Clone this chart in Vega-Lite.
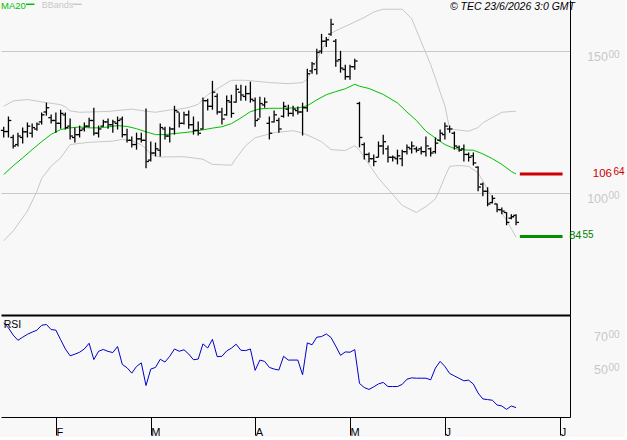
{
  "$schema": "https://vega.github.io/schema/vega-lite/v6.json",
  "background": "#f8f8f8",
  "padding": 0,
  "spacing": 0,
  "config": {"view": {"stroke": null}, "text": {"font": "Liberation Sans"}},
  "datasets": {
    "bars": [
      {"i":0,"o":122.0,"h":123.3,"l":119.5,"c":121.6,"rsi":75.2},
      {"i":1,"o":121.6,"h":126.9,"l":119.5,"c":125.5,"rsi":72.1},
      {"i":2,"o":119.5,"h":120.5,"l":115.6,"c":116.5,"rsi":67.7},
      {"i":3,"o":117.0,"h":121.2,"l":116.3,"c":120.0,"rsi":64.5},
      {"i":4,"o":119.5,"h":123.0,"l":117.4,"c":121.5,"rsi":66.4},
      {"i":5,"o":121.5,"h":124.8,"l":119.5,"c":123.5,"rsi":68.2},
      {"i":6,"o":121.0,"h":124.4,"l":119.5,"c":123.0,"rsi":69.5},
      {"i":7,"o":122.5,"h":124.8,"l":121.9,"c":124.2,"rsi":70.7},
      {"i":8,"o":125.0,"h":128.3,"l":124.1,"c":127.5,"rsi":73.7},
      {"i":9,"o":128.5,"h":131.8,"l":127.2,"c":130.0,"rsi":74.2},
      {"i":10,"o":126.5,"h":127.6,"l":124.4,"c":125.5,"rsi":71.1},
      {"i":11,"o":125.5,"h":128.3,"l":121.2,"c":124.5,"rsi":70.7},
      {"i":12,"o":124.5,"h":129.3,"l":122.6,"c":128.0,"rsi":64.9},
      {"i":13,"o":127.5,"h":128.3,"l":122.3,"c":123.0,"rsi":59.2},
      {"i":14,"o":123.5,"h":126.2,"l":118.8,"c":120.0,"rsi":55.0},
      {"i":15,"o":119.5,"h":123.0,"l":117.7,"c":120.5,"rsi":56.0},
      {"i":16,"o":120.5,"h":123.7,"l":119.5,"c":122.0,"rsi":57.2},
      {"i":17,"o":122.5,"h":124.8,"l":121.6,"c":123.5,"rsi":59.2},
      {"i":18,"o":123.5,"h":126.5,"l":123.0,"c":125.5,"rsi":62.7},
      {"i":19,"o":125.5,"h":130.0,"l":120.2,"c":121.0,"rsi":52.7},
      {"i":20,"o":121.0,"h":123.7,"l":119.5,"c":122.5,"rsi":57.8},
      {"i":21,"o":123.5,"h":125.8,"l":123.3,"c":125.0,"rsi":58.9},
      {"i":22,"o":125.0,"h":126.2,"l":122.6,"c":124.0,"rsi":57.7},
      {"i":23,"o":124.0,"h":125.8,"l":121.2,"c":125.0,"rsi":57.0},
      {"i":24,"o":124.5,"h":126.9,"l":122.3,"c":125.5,"rsi":60.7},
      {"i":25,"o":126.0,"h":126.9,"l":119.5,"c":120.5,"rsi":49.7},
      {"i":26,"o":120.5,"h":122.6,"l":117.7,"c":118.5,"rsi":47.7},
      {"i":27,"o":118.5,"h":119.8,"l":116.0,"c":117.0,"rsi":44.4},
      {"i":28,"o":117.0,"h":121.2,"l":115.2,"c":119.0,"rsi":48.5},
      {"i":29,"o":119.0,"h":121.2,"l":117.7,"c":118.5,"rsi":50.7},
      {"i":30,"o":118.5,"h":129.7,"l":108.6,"c":111.0,"rsi":36.8},
      {"i":31,"o":111.5,"h":118.1,"l":111.0,"c":114.0,"rsi":46.9},
      {"i":32,"o":114.0,"h":117.7,"l":112.8,"c":115.5,"rsi":47.9},
      {"i":33,"o":115.0,"h":124.4,"l":112.8,"c":123.0,"rsi":52.9},
      {"i":34,"o":122.5,"h":123.3,"l":118.8,"c":120.0,"rsi":51.2},
      {"i":35,"o":120.0,"h":123.3,"l":117.7,"c":122.5,"rsi":54.7},
      {"i":36,"o":122.5,"h":130.7,"l":120.5,"c":129.0,"rsi":59.2},
      {"i":37,"o":128.5,"h":128.3,"l":123.0,"c":124.5,"rsi":57.8},
      {"i":38,"o":124.5,"h":128.6,"l":124.1,"c":127.5,"rsi":58.7},
      {"i":39,"o":127.5,"h":129.0,"l":122.6,"c":124.0,"rsi":56.1},
      {"i":40,"o":124.0,"h":126.9,"l":120.5,"c":122.0,"rsi":52.6},
      {"i":41,"o":122.0,"h":125.1,"l":120.2,"c":121.0,"rsi":53.0},
      {"i":42,"o":122.5,"h":133.6,"l":122.3,"c":132.5,"rsi":62.3},
      {"i":43,"o":132.5,"h":133.2,"l":129.0,"c":130.5,"rsi":59.8},
      {"i":44,"o":130.5,"h":139.5,"l":129.3,"c":135.5,"rsi":65.1},
      {"i":45,"o":134.0,"h":135.0,"l":127.6,"c":128.5,"rsi":54.5},
      {"i":46,"o":128.5,"h":130.0,"l":124.1,"c":126.0,"rsi":54.7},
      {"i":47,"o":127.5,"h":134.3,"l":127.2,"c":132.5,"rsi":58.0},
      {"i":48,"o":132.0,"h":134.6,"l":126.5,"c":128.0,"rsi":59.7},
      {"i":49,"o":132.0,"h":138.1,"l":131.8,"c":136.5,"rsi":62.1},
      {"i":50,"o":135.5,"h":138.1,"l":132.5,"c":134.5,"rsi":58.4},
      {"i":51,"o":134.0,"h":137.8,"l":132.5,"c":135.0,"rsi":58.2},
      {"i":52,"o":135.0,"h":139.2,"l":131.8,"c":133.0,"rsi":59.2},
      {"i":53,"o":132.5,"h":133.6,"l":123.3,"c":125.5,"rsi":46.1},
      {"i":54,"o":126.0,"h":133.9,"l":126.5,"c":131.5,"rsi":52.4},
      {"i":55,"o":131.0,"h":133.6,"l":130.0,"c":132.0,"rsi":51.6},
      {"i":56,"o":124.5,"h":126.9,"l":118.8,"c":121.0,"rsi":47.9},
      {"i":57,"o":125.0,"h":129.0,"l":124.8,"c":127.5,"rsi":46.9},
      {"i":58,"o":125.5,"h":126.5,"l":121.2,"c":122.5,"rsi":46.3},
      {"i":59,"o":127.0,"h":132.1,"l":126.5,"c":130.5,"rsi":54.7},
      {"i":60,"o":129.5,"h":131.1,"l":126.9,"c":128.0,"rsi":52.4},
      {"i":61,"o":128.0,"h":130.7,"l":126.9,"c":129.5,"rsi":52.4},
      {"i":62,"o":129.0,"h":130.4,"l":127.6,"c":128.5,"rsi":52.4},
      {"i":63,"o":128.5,"h":131.8,"l":120.2,"c":130.0,"rsi":43.4},
      {"i":64,"o":130.0,"h":143.8,"l":128.6,"c":142.0,"rsi":62.9},
      {"i":65,"o":143.0,"h":146.2,"l":142.0,"c":145.5,"rsi":61.8},
      {"i":66,"o":143.5,"h":150.8,"l":141.7,"c":149.5,"rsi":66.4},
      {"i":67,"o":150.0,"h":156.1,"l":149.1,"c":153.5,"rsi":66.8},
      {"i":68,"o":153.5,"h":155.0,"l":151.5,"c":154.0,"rsi":68.4},
      {"i":69,"o":156.0,"h":161.4,"l":155.4,"c":159.5,"rsi":66.2},
      {"i":70,"o":153.5,"h":154.3,"l":144.5,"c":146.5,"rsi":60.9},
      {"i":71,"o":147.0,"h":150.1,"l":142.4,"c":144.0,"rsi":55.3},
      {"i":72,"o":143.5,"h":145.2,"l":139.9,"c":141.0,"rsi":57.4},
      {"i":73,"o":141.0,"h":145.2,"l":139.9,"c":144.5,"rsi":57.2},
      {"i":74,"o":144.5,"h":147.3,"l":143.4,"c":146.5,"rsi":58.8},
      {"i":75,"o":131.5,"h":132.1,"l":116.0,"c":119.5,"rsi":38.1},
      {"i":76,"o":117.0,"h":117.7,"l":111.7,"c":113.5,"rsi":35.6},
      {"i":77,"o":113.5,"h":114.2,"l":110.7,"c":112.0,"rsi":34.4},
      {"i":78,"o":112.0,"h":113.5,"l":109.3,"c":111.0,"rsi":36.0},
      {"i":79,"o":112.5,"h":118.1,"l":112.4,"c":116.5,"rsi":37.8},
      {"i":80,"o":116.5,"h":120.5,"l":113.5,"c":118.0,"rsi":38.7},
      {"i":81,"o":115.5,"h":116.7,"l":110.7,"c":112.5,"rsi":36.2},
      {"i":82,"o":112.5,"h":113.1,"l":111.0,"c":112.5,"rsi":36.2},
      {"i":83,"o":112.0,"h":115.2,"l":110.0,"c":113.0,"rsi":36.2},
      {"i":84,"o":112.0,"h":115.2,"l":109.3,"c":114.5,"rsi":37.5},
      {"i":85,"o":114.5,"h":117.0,"l":113.5,"c":116.0,"rsi":40.7},
      {"i":86,"o":115.5,"h":118.1,"l":113.8,"c":116.5,"rsi":41.5},
      {"i":87,"o":115.5,"h":116.3,"l":114.2,"c":115.0,"rsi":41.3},
      {"i":88,"o":115.5,"h":116.3,"l":113.5,"c":114.5,"rsi":41.3},
      {"i":89,"o":114.5,"h":119.8,"l":112.8,"c":116.5,"rsi":41.3},
      {"i":90,"o":115.5,"h":116.0,"l":112.8,"c":114.0,"rsi":40.3},
      {"i":91,"o":114.5,"h":119.5,"l":113.8,"c":117.5,"rsi":47.5},
      {"i":92,"o":118.5,"h":122.3,"l":118.1,"c":121.0,"rsi":51.6},
      {"i":93,"o":120.5,"h":124.8,"l":118.8,"c":123.5,"rsi":48.5},
      {"i":94,"o":122.5,"h":123.7,"l":121.2,"c":122.5,"rsi":44.2},
      {"i":95,"o":121.0,"h":121.6,"l":115.2,"c":116.5,"rsi":42.7},
      {"i":96,"o":116.0,"h":116.7,"l":114.5,"c":115.0,"rsi":41.2},
      {"i":97,"o":115.5,"h":117.0,"l":111.0,"c":113.5,"rsi":39.7},
      {"i":98,"o":113.5,"h":114.2,"l":111.0,"c":112.5,"rsi":40.1},
      {"i":99,"o":113.0,"h":114.2,"l":109.6,"c":110.5,"rsi":37.7},
      {"i":100,"o":109.0,"h":109.3,"l":100.5,"c":102.0,"rsi":32.2},
      {"i":101,"o":103.0,"h":103.6,"l":98.7,"c":100.5,"rsi":28.6},
      {"i":102,"o":100.5,"h":101.9,"l":95.2,"c":96.0,"rsi":28.2},
      {"i":103,"o":96.5,"h":99.1,"l":96.2,"c":98.0,"rsi":27.8},
      {"i":104,"o":96.0,"h":96.2,"l":93.1,"c":94.0,"rsi":24.9},
      {"i":105,"o":94.0,"h":94.8,"l":92.4,"c":93.5,"rsi":24.3},
      {"i":106,"o":93.0,"h":93.1,"l":88.5,"c":89.5,"rsi":22.2},
      {"i":107,"o":91.0,"h":92.4,"l":90.6,"c":91.5,"rsi":24.3},
      {"i":108,"o":92.0,"h":92.4,"l":88.5,"c":89.5,"rsi":23.3}
    ],
    "ind": [
      {"i":0,"s":"MA20","v":106.4},{"i":2,"s":"MA20","v":109.5},{"i":4,"s":"MA20","v":112.3},{"i":6,"s":"MA20","v":115.2},
      {"i":8,"s":"MA20","v":118.0},{"i":10,"s":"MA20","v":120.6},{"i":12,"s":"MA20","v":122.3},{"i":14,"s":"MA20","v":122.9},
      {"i":16,"s":"MA20","v":123.2},{"i":18,"s":"MA20","v":122.9},{"i":20,"s":"MA20","v":122.9},{"i":22,"s":"MA20","v":123.2},
      {"i":24,"s":"MA20","v":123.7},{"i":26,"s":"MA20","v":123.4},{"i":28,"s":"MA20","v":122.6},{"i":30,"s":"MA20","v":121.5},
      {"i":32,"s":"MA20","v":120.5},{"i":34,"s":"MA20","v":120.5},{"i":36,"s":"MA20","v":120.9},{"i":38,"s":"MA20","v":121.2},
      {"i":40,"s":"MA20","v":121.6},{"i":42,"s":"MA20","v":122.2},{"i":44,"s":"MA20","v":122.8},{"i":46,"s":"MA20","v":123.3},
      {"i":48,"s":"MA20","v":124.4},{"i":50,"s":"MA20","v":126.4},{"i":52,"s":"MA20","v":128.6},{"i":54,"s":"MA20","v":129.6},
      {"i":56,"s":"MA20","v":129.8},{"i":58,"s":"MA20","v":129.8},{"i":60,"s":"MA20","v":129.9},{"i":62,"s":"MA20","v":129.9},
      {"i":64,"s":"MA20","v":130.7},{"i":66,"s":"MA20","v":132.8},{"i":68,"s":"MA20","v":134.6},{"i":70,"s":"MA20","v":135.7},
      {"i":72,"s":"MA20","v":136.7},{"i":74,"s":"MA20","v":138.3},{"i":75,"s":"MA20","v":137.6},{"i":77,"s":"MA20","v":136.8},
      {"i":80,"s":"MA20","v":134.7},{"i":83,"s":"MA20","v":131.7},{"i":85,"s":"MA20","v":128.5},{"i":87,"s":"MA20","v":125.5},
      {"i":89,"s":"MA20","v":121.7},{"i":91,"s":"MA20","v":119.3},{"i":93,"s":"MA20","v":117.0},{"i":95,"s":"MA20","v":115.6},
      {"i":97,"s":"MA20","v":115.1},{"i":99,"s":"MA20","v":115.0},{"i":101,"s":"MA20","v":113.7},{"i":103,"s":"MA20","v":112.0},
      {"i":105,"s":"MA20","v":110.0},{"i":107,"s":"MA20","v":107.5},{"i":108,"s":"MA20","v":106.6},
      {"i":0,"s":"Upper","v":130.5},{"i":2,"s":"Upper","v":132.4},{"i":5,"s":"Upper","v":132.9},{"i":9,"s":"Upper","v":131.8},
      {"i":12,"s":"Upper","v":131.1},{"i":13,"s":"Upper","v":130.3},{"i":14,"s":"Upper","v":128.9},{"i":16,"s":"Upper","v":128.4},
      {"i":22,"s":"Upper","v":128.7},{"i":27,"s":"Upper","v":129.5},{"i":30,"s":"Upper","v":128.8},{"i":32,"s":"Upper","v":128.4},
      {"i":35,"s":"Upper","v":129.2},{"i":37,"s":"Upper","v":129.5},{"i":39,"s":"Upper","v":130.1},{"i":41,"s":"Upper","v":131.2},
      {"i":43,"s":"Upper","v":134.6},{"i":46,"s":"Upper","v":137.7},{"i":48,"s":"Upper","v":139.7},{"i":51,"s":"Upper","v":139.7},
      {"i":56,"s":"Upper","v":138.9},{"i":60,"s":"Upper","v":138.5},{"i":63,"s":"Upper","v":138.9},{"i":64,"s":"Upper","v":140.1},
      {"i":66,"s":"Upper","v":147.0},{"i":69,"s":"Upper","v":156.3},{"i":70,"s":"Upper","v":157.2},{"i":73,"s":"Upper","v":159.5},
      {"i":76,"s":"Upper","v":161.9},{"i":78,"s":"Upper","v":163.8},{"i":80,"s":"Upper","v":164.8},{"i":84,"s":"Upper","v":164.8},
      {"i":86,"s":"Upper","v":161.5},{"i":88,"s":"Upper","v":153.3},{"i":90,"s":"Upper","v":145.2},{"i":91,"s":"Upper","v":140.5},
      {"i":92,"s":"Upper","v":135.5},{"i":93,"s":"Upper","v":130.7},{"i":94,"s":"Upper","v":122.5},{"i":98,"s":"Upper","v":121.7},
      {"i":100,"s":"Upper","v":123.0},{"i":101,"s":"Upper","v":124.7},{"i":105,"s":"Upper","v":128.4},{"i":108,"s":"Upper","v":128.8},
      {"i":0,"s":"Lower","v":83.0},{"i":2,"s":"Lower","v":86.5},{"i":5,"s":"Lower","v":93.5},{"i":7,"s":"Lower","v":100.5},
      {"i":8,"s":"Lower","v":105.0},{"i":10,"s":"Lower","v":109.4},{"i":12,"s":"Lower","v":112.3},{"i":14,"s":"Lower","v":117.0},
      {"i":18,"s":"Lower","v":117.8},{"i":23,"s":"Lower","v":118.2},{"i":25,"s":"Lower","v":118.8},{"i":27,"s":"Lower","v":118.4},
      {"i":29,"s":"Lower","v":116.9},{"i":30,"s":"Lower","v":115.6},{"i":31,"s":"Lower","v":113.5},{"i":33,"s":"Lower","v":112.6},
      {"i":38,"s":"Lower","v":112.7},{"i":42,"s":"Lower","v":111.8},{"i":44,"s":"Lower","v":110.0},{"i":48,"s":"Lower","v":109.7},
      {"i":49,"s":"Lower","v":112.2},{"i":51,"s":"Lower","v":116.6},{"i":53,"s":"Lower","v":119.4},{"i":57,"s":"Lower","v":121.2},
      {"i":61,"s":"Lower","v":121.9},{"i":63,"s":"Lower","v":121.1},{"i":65,"s":"Lower","v":119.6},{"i":67,"s":"Lower","v":118.0},
      {"i":69,"s":"Lower","v":115.2},{"i":72,"s":"Lower","v":114.9},{"i":74,"s":"Lower","v":116.6},{"i":75,"s":"Lower","v":115.0},
      {"i":77,"s":"Lower","v":110.0},{"i":79,"s":"Lower","v":105.1},{"i":82,"s":"Lower","v":99.4},{"i":84,"s":"Lower","v":95.5},
      {"i":87,"s":"Lower","v":93.0},{"i":89,"s":"Lower","v":95.1},{"i":91,"s":"Lower","v":97.8},{"i":92,"s":"Lower","v":101.5},
      {"i":93,"s":"Lower","v":105.6},{"i":94,"s":"Lower","v":109.3},{"i":96,"s":"Lower","v":109.6},{"i":98,"s":"Lower","v":109.3},
      {"i":100,"s":"Lower","v":107.0},{"i":102,"s":"Lower","v":101.2},{"i":104,"s":"Lower","v":95.4},{"i":106,"s":"Lower","v":90.2},
      {"i":108,"s":"Lower","v":84.3}
    ],
    "levels": [
      {"level":"resistance","v":106.64,"main":"106","sup":"64"},
      {"level":"support","v":84.55,"main":"84","sup":"55"}
    ],
    "gridlab": [
      {"v":150,"main":"150","sup":"00"},
      {"v":100,"main":"100","sup":"00"}
    ],
    "rsilab": [
      {"v":70,"main":"70","sup":"00"},
      {"v":50,"main":"50","sup":"00"}
    ]
  },
  "vconcat": [
    {
      "width": 569,
      "height": 315,
      "resolve": {"scale": {"color": "independent"}},
      "layer": [
        {
          "data": {"name": "ind"},
          "mark": {"type": "line", "strokeWidth": 1, "clip": true},
          "encoding": {
            "x": {"field": "i", "type": "quantitative",
                  "scale": {"domain": [-0.569, 119.37], "nice": false, "zero": false},
                  "axis": {"orient": "bottom", "values": [], "grid": false, "labels": false, "ticks": false, "domain": true, "domainColor": "#000000", "domainWidth": 2, "title": null}},
            "y": {"field": "v", "type": "quantitative",
                  "scale": {"domain": [56.79, 168.06], "nice": false, "zero": false},
                  "axis": {"orient": "right", "values": [100, 150], "grid": true, "gridColor": "#c8c8c8", "gridWidth": 1, "labels": false, "ticks": false, "domainColor": "#000000", "domainWidth": 1, "title": null}},
            "color": {"field": "s", "type": "nominal",
                      "scale": {"domain": ["MA20", "Upper", "Lower"], "range": ["#00c000", "#c8c8c8", "#c8c8c8"]},
                      "legend": null}
          }
        },
        {
          "data": {"name": "bars"},
          "mark": {"type": "rule", "color": "#000000", "strokeWidth": 1.3},
          "encoding": {
            "x": {"field": "i", "type": "quantitative"},
            "y": {"field": "h", "type": "quantitative"},
            "y2": {"field": "l"}
          }
        },
        {
          "data": {"name": "bars"},
          "mark": {"type": "tick", "orient": "horizontal", "color": "#000000", "size": 2.5, "thickness": 1.3, "xOffset": -1.6, "opacity": 1},
          "encoding": {
            "x": {"field": "i", "type": "quantitative"},
            "y": {"field": "o", "type": "quantitative"}
          }
        },
        {
          "data": {"name": "bars"},
          "mark": {"type": "tick", "orient": "horizontal", "color": "#000000", "size": 2.5, "thickness": 1.3, "xOffset": 1.6, "opacity": 1},
          "encoding": {
            "x": {"field": "i", "type": "quantitative"},
            "y": {"field": "c", "type": "quantitative"}
          }
        },
        {
          "data": {"name": "levels"},
          "mark": {"type": "rule", "strokeWidth": 3},
          "encoding": {
            "x": {"datum": 108.8},
            "x2": {"datum": 117.8},
            "y": {"field": "v", "type": "quantitative"},
            "color": {"field": "level", "type": "nominal",
                      "scale": {"domain": ["resistance", "support"], "range": ["#cc0000", "#009000"]},
                      "legend": null}
          }
        },
        {
          "data": {"name": "gridlab"},
          "mark": {"type": "text", "align": "right", "baseline": "top", "dx": 38, "fontSize": 12.5, "color": "#c8c8c8"},
          "encoding": {
            "x": {"datum": 119.37},
            "y": {"field": "v", "type": "quantitative"},
            "text": {"field": "main"}
          }
        },
        {
          "data": {"name": "gridlab"},
          "mark": {"type": "text", "align": "left", "baseline": "top", "dx": 38.5, "dy": -1.5, "fontSize": 10, "color": "#c8c8c8"},
          "encoding": {
            "x": {"datum": 119.37},
            "y": {"field": "v", "type": "quantitative"},
            "text": {"field": "sup"}
          }
        },
        {
          "data": {"name": "levels"},
          "transform": [{"filter": "datum.level === 'resistance'"}],
          "mark": {"type": "text", "align": "right", "baseline": "middle", "dx": 42, "fontSize": 11.5, "color": "#cc0000"},
          "encoding": {
            "x": {"datum": 119.37},
            "y": {"field": "v", "type": "quantitative"},
            "text": {"field": "main"}
          }
        },
        {
          "data": {"name": "levels"},
          "transform": [{"filter": "datum.level === 'resistance'"}],
          "mark": {"type": "text", "align": "left", "baseline": "middle", "dx": 43.5, "dy": -1.5, "fontSize": 10, "color": "#cc0000"},
          "encoding": {
            "x": {"datum": 119.37},
            "y": {"field": "v", "type": "quantitative"},
            "text": {"field": "sup"}
          }
        },
        {
          "data": {"name": "levels"},
          "transform": [{"filter": "datum.level === 'support'"}],
          "mark": {"type": "text", "align": "right", "baseline": "middle", "dx": 11.5, "fontSize": 11, "color": "#008000"},
          "encoding": {
            "x": {"datum": 119.37},
            "y": {"field": "v", "type": "quantitative"},
            "text": {"field": "main"}
          }
        },
        {
          "data": {"name": "levels"},
          "transform": [{"filter": "datum.level === 'support'"}],
          "mark": {"type": "text", "align": "left", "baseline": "middle", "dx": 12.5, "dy": -1, "fontSize": 10, "color": "#008000"},
          "encoding": {
            "x": {"datum": 119.37},
            "y": {"field": "v", "type": "quantitative"},
            "text": {"field": "sup"}
          }
        },
        {
          "data": {"values": [{"label": "MA20"}]},
          "mark": {"type": "text", "align": "left", "baseline": "top", "fontSize": 9.5, "color": "#00c000"},
          "encoding": {
            "x": {"datum": -0.569},
            "y": {"datum": 167.6},
            "text": {"field": "label"}
          }
        },
        {
          "data": {"values": [{"label": "MA20"}]},
          "mark": {"type": "rule", "strokeWidth": 1.5, "color": "#00c000"},
          "encoding": {
            "x": {"datum": 4.70},
            "x2": {"datum": 6.49},
            "y": {"datum": 166.55}
          }
        },
        {
          "data": {"values": [{"label": "BBands"}]},
          "mark": {"type": "text", "align": "left", "baseline": "top", "fontSize": 9, "color": "#c8c8c8"},
          "encoding": {
            "x": {"datum": 8.0},
            "y": {"datum": 167.6},
            "text": {"field": "label"}
          }
        },
        {
          "data": {"values": [{"label": "BBands"}]},
          "mark": {"type": "rule", "strokeWidth": 1.5, "color": "#c8c8c8"},
          "encoding": {
            "x": {"datum": 14.55},
            "x2": {"datum": 16.44},
            "y": {"datum": 166.55}
          }
        },
        {
          "data": {"values": [{"label": "© TEC 23/6/2026 3:0 GMT"}]},
          "mark": {"type": "text", "align": "right", "baseline": "top", "dx": 5, "fontSize": 10.5, "fontStyle": "italic", "color": "#000000"},
          "encoding": {
            "x": {"datum": 119.37},
            "y": {"datum": 167.45},
            "text": {"field": "label"}
          }
        }
      ]
    },
    {
      "width": 569,
      "height": 102,
      "layer": [
        {
          "data": {"name": "bars"},
          "mark": {"type": "line", "color": "#0000cc", "strokeWidth": 1},
          "encoding": {
            "x": {"field": "i", "type": "quantitative",
                  "scale": {"domain": [-0.569, 119.37], "nice": false, "zero": false},
                  "axis": {"orient": "bottom", "values": [11, 31, 53, 73, 93, 117.3], "grid": false, "ticks": true, "tickSize": 18, "tickColor": "#000000", "tickWidth": 1, "domainColor": "#000000", "domainWidth": 1, "labelColor": "#000000", "labelFont": "Liberation Sans", "labelFontSize": 11, "labelAlign": "left", "labelBaseline": "top", "labelPadding": -9, "labelDx": 2, "labelFlush": false, "labelOverlap": false, "labelBound": false, "labelExpr": "datum.value < 20 ? 'F' : datum.value < 40 ? 'M' : datum.value < 60 ? 'A' : datum.value < 80 ? 'M' : 'J'", "title": null}},
            "y": {"field": "rsi", "type": "quantitative",
                  "scale": {"domain": [17.54, 80.0], "nice": false, "zero": false},
                  "axis": {"orient": "right", "values": [], "grid": false, "labels": false, "ticks": false, "domainColor": "#000000", "domainWidth": 1, "title": null}}
          }
        },
        {
          "data": {"values": [{"label": "RSI"}]},
          "mark": {"type": "text", "align": "left", "baseline": "top", "fontSize": 10.5, "color": "#000000"},
          "encoding": {
            "x": {"datum": 0},
            "y": {"datum": 76.7},
            "text": {"field": "label"}
          }
        },
        {
          "data": {"name": "rsilab"},
          "mark": {"type": "text", "align": "right", "baseline": "top", "dx": 38, "fontSize": 12.5, "color": "#c8c8c8"},
          "encoding": {
            "x": {"datum": 119.37},
            "y": {"field": "v", "type": "quantitative"},
            "text": {"field": "main"}
          }
        },
        {
          "data": {"name": "rsilab"},
          "mark": {"type": "text", "align": "left", "baseline": "top", "dx": 38.5, "dy": -1, "fontSize": 10, "color": "#c8c8c8"},
          "encoding": {
            "x": {"datum": 119.37},
            "y": {"field": "v", "type": "quantitative"},
            "text": {"field": "sup"}
          }
        }
      ]
    }
  ]
}
